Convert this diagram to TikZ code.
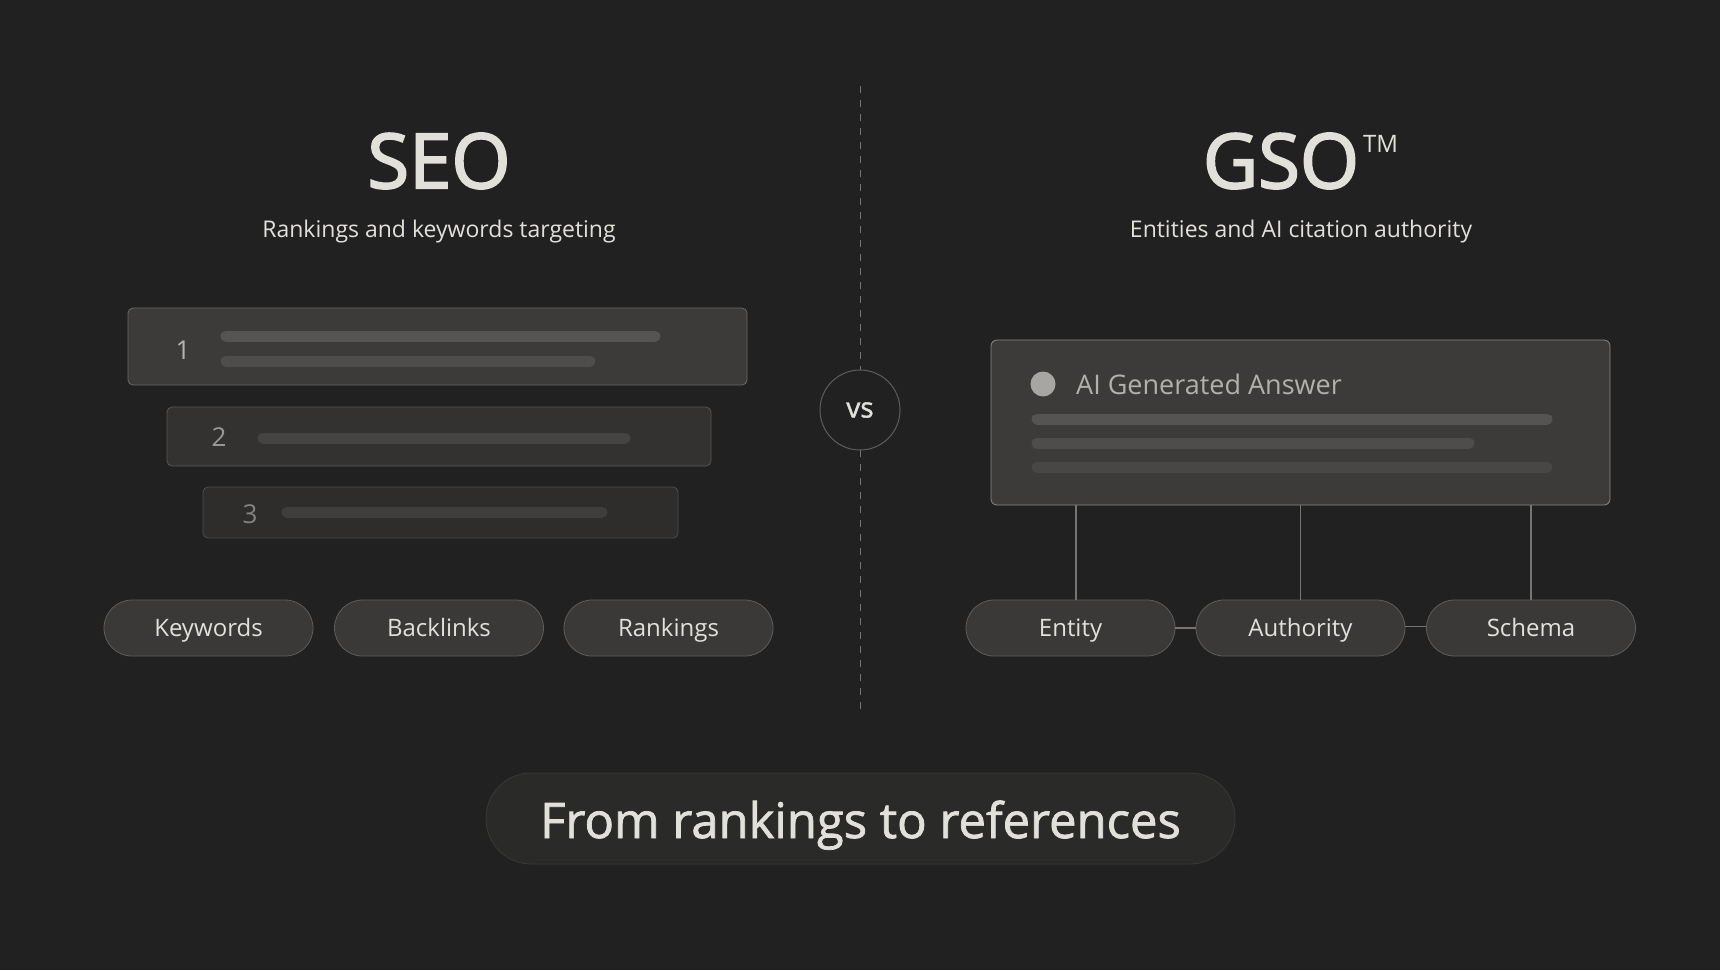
\documentclass[tikz,border=0pt]{standalone}
\usepackage{fontspec}
\setmainfont{Open Sans}
\newfontfamily\medfont{Open Sans}[FakeBold=2.5]
\newfontfamily\semfont{Open Sans}[FakeBold=1.5]
\begin{document}
\begin{tikzpicture}[x=1pt,y=-1pt,
  txt/.style={text=light, inner sep=0},
  pill/.style={draw=pillb, fill=pillf, rounded corners=28pt, minimum width=209pt, minimum height=56pt, text=light, font=\fontsize{24}{28}\selectfont, line width=0.8pt, text height=19.5pt, text depth=2.5pt},
  bar/.style={line cap=round, line width=11pt},
  conn/.style={draw=connc, line width=1.2pt}]
\definecolor{bg}{HTML}{212121}
\definecolor{light}{HTML}{E2E0DB}
\definecolor{pillf}{HTML}{3A3938}
\definecolor{pillb}{HTML}{5E5D5B}
\definecolor{connc}{HTML}{77756F}
\definecolor{b1f}{HTML}{3C3B39}\definecolor{b1d}{HTML}{6A6A68}
\definecolor{b2f}{HTML}{333230}\definecolor{b2d}{HTML}{575654}
\definecolor{b3f}{HTML}{2E2D2C}\definecolor{b3d}{HTML}{4E4D4B}
\definecolor{aid}{HTML}{8A8884}
\definecolor{bar1}{HTML}{555452}\definecolor{bar2}{HTML}{4E4D4B}
\definecolor{bar3}{HTML}{454443}\definecolor{bar4}{HTML}{3F3E3D}
\definecolor{bar5}{HTML}{484746}
\definecolor{dotc}{HTML}{A8A6A2}\definecolor{ait}{HTML}{B2B0AB}
\definecolor{n1c}{HTML}{B5B3AE}\definecolor{n2c}{HTML}{9A9894}\definecolor{n3c}{HTML}{85837F}
\definecolor{tagf}{HTML}{2A2A29}\definecolor{tagd}{HTML}{3A3937}
\fill[bg] (0,0) rectangle (1720,970);
\useasboundingbox (0,0) rectangle (1720,970);
% divider
\draw[connc, dash pattern=on 7pt off 7pt, line width=1pt] (860,86) -- (860,711);
\node[circle, draw=pillb, fill=bg, minimum size=80pt, line width=1pt, text=light, font=\semfont\fontsize{28}{30}\selectfont] (vs) at (860,410) {vs};
% titles
\node[txt, font=\medfont\fontsize{76}{80}\selectfont] (seo) at (439,161) {SEO};
\node[txt, font=\fontsize{23}{26}\selectfont] (seosub) at (439,232) {Rankings and keywords targeting};
\node[txt, font=\medfont\fontsize{76}{80}\selectfont] (gso) at (1281,161) {GSO};
\node[txt, font=\fontsize{24}{26}\selectfont, anchor=west] (tm) at (1363,144) {TM};
\node[txt, font=\fontsize{23}{26}\selectfont] (gsosub) at (1301,232) {Entities and AI citation authority};
% ranking boxes
\node[draw=b1d, fill=b1f, rounded corners=5pt, minimum width=619pt, minimum height=77pt, line width=0.8pt] (r1) at (437.5,346.5) {};
\node[draw=b2d, fill=b2f, rounded corners=5pt, minimum width=544pt, minimum height=59pt, line width=0.8pt] (r2) at (439,436.5) {};
\node[draw=b3d, fill=b3f, rounded corners=5pt, minimum width=475pt, minimum height=51pt, line width=0.8pt] (r3) at (440.5,512.5) {};
\node[text=n1c, font=\fontsize{26}{28}\selectfont] (n1) at (183,350) {1};
\node[text=n2c, font=\fontsize{26}{28}\selectfont] (n2) at (219,437) {2};
\node[text=n3c, font=\fontsize{26}{28}\selectfont] (n3) at (250,514) {3};
\draw[bar, bar1] (226,336) -- (655,336);
\draw[bar, bar2] (226,361) -- (590,361);
\draw[bar, bar3] (263,438) -- (625,438);
\draw[bar, bar4] (287,512) -- (602,512);
% left pills
\node[pill] (kw) at (208.5,628) {Keywords};
\node[pill] (bl) at (439,628) {Backlinks};
\node[pill] (rk) at (668.5,628) {Rankings};
% AI box
\node[draw=aid, fill=b1f, rounded corners=6pt, minimum width=619pt, minimum height=165pt, line width=0.8pt] (ai) at (1300.5,422.5) {};
\fill[dotc] (1043,384) circle (12.5pt);
\node[txt, anchor=west, font=\fontsize{27}{30}\selectfont, text=ait] (ait) at (1076,384) {AI Generated Answer};
\draw[bar, bar1] (1037,419) -- (1547,419);
\draw[bar, bar2] (1037,443) -- (1469,443);
\draw[bar, bar5] (1037,467) -- (1547,467);
% right pills
\node[pill] (en) at (1070.5,628) {Entity};
\node[pill] (au) at (1300.5,628) {Authority};
\node[pill] (sc) at (1531,628) {Schema};
\draw[conn] (ai.south -| 1076,0) -- (en.north -| 1076,0);
\draw[conn] (ai.south -| au.north) -- (au.north);
\draw[conn] (ai.south -| sc.north) -- (sc.north);
\draw[conn] (en.east) -- (au.west);
\draw[conn] ([yshift=1.5pt]au.east) -- ([yshift=1.5pt]sc.west);
% bottom
\node[draw=tagd, fill=tagf, rounded corners=45pt, minimum width=749pt, minimum height=91pt, text=light, font=\semfont\fontsize{49}{54}\selectfont, line width=0.8pt, text height=41pt, text depth=2pt] (tag) at (860.5,818.5) {From rankings to references};
\end{tikzpicture}
\end{document}
